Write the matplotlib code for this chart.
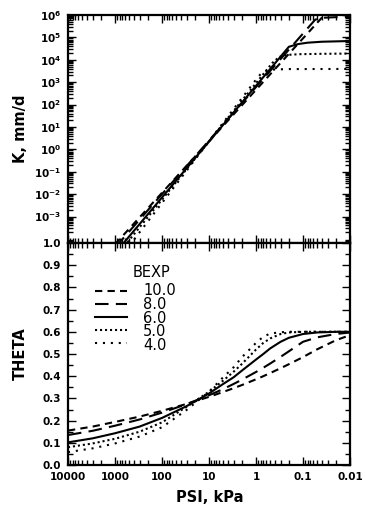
import matplotlib
matplotlib.use("Agg")
import matplotlib.pyplot as plt
from matplotlib.ticker import FixedLocator, FixedFormatter, LogLocator, NullFormatter, MultipleLocator

# ---------------- data ----------------
bexp_labels = ["10.0", "8.0", "6.0", "5.0", "4.0"]

# top panel: hydraulic conductivity K (mm/d) versus PSI (kPa)
k_psi_10 = [1000, 0.01]
k_val_10 = [5.8e-5, 1.8e7]
k_psi_8 = [1000, 0.055, 0.04, 0.02, 0.01]
k_val_8 = [4.1e-5, 6.2e5, 7.5e5, 8.0e5, 8.2e5]
k_psi_6 = [1000, 0.2, 0.13, 0.08, 0.04, 0.01]
k_val_6 = [2.3e-5, 3.8e4, 5.0e4, 5.8e4, 6.4e4, 6.9e4]
k_psi_5 = [1000, 0.45, 0.32, 0.22, 0.12, 0.04, 0.01]
k_val_5 = [1.45e-5, 7.2e3, 1.35e4, 1.65e4, 1.78e4, 1.85e4, 1.9e4]
k_psi_4 = [1000, 1.0, 0.75, 0.55, 0.4, 0.2, 0.01]
k_val_4 = [7.2e-6, 1.3e3, 2.7e3, 3.4e3, 3.7e3, 3.85e3, 3.9e3]

# bottom panel: water content THETA versus PSI (kPa)
theta_psi = [10000, 3000, 1000, 300, 100, 30, 10, 5, 3, 2, 1, 0.7, 0.5, 0.3, 0.2, 0.1, 0.05, 0.02, 0.01]
theta_10 = [0.155, 0.173, 0.194, 0.218, 0.244, 0.275, 0.307, 0.329, 0.346, 0.360, 0.386, 0.400, 0.414, 0.436, 0.454, 0.486, 0.521, 0.562, 0.585]
theta_8 = [0.135, 0.154, 0.177, 0.205, 0.236, 0.274, 0.314, 0.342, 0.365, 0.384, 0.419, 0.438, 0.457, 0.487, 0.512, 0.555, 0.575, 0.590, 0.597]
theta_6 = [0.102, 0.120, 0.143, 0.173, 0.212, 0.265, 0.322, 0.365, 0.395, 0.425, 0.475, 0.500, 0.525, 0.555, 0.573, 0.590, 0.597, 0.600, 0.600]
theta_5 = [0.080, 0.097, 0.118, 0.150, 0.192, 0.262, 0.330, 0.380, 0.420, 0.455, 0.520, 0.550, 0.570, 0.590, 0.597, 0.600, 0.600, 0.600, 0.600]
theta_4 = [0.058, 0.075, 0.097, 0.128, 0.170, 0.248, 0.330, 0.395, 0.440, 0.485, 0.550, 0.578, 0.592, 0.598, 0.600, 0.600, 0.600, 0.600, 0.600]

x_ticks = [10000, 1000, 100, 10, 1, 0.1, 0.01]
x_tick_labels = ["10000", "1000", "100", "10", "1", "0.1", "0.01"]
k_ticks = [1e-3, 1e-2, 1e-1, 1e0, 1e1, 1e2, 1e3, 1e4, 1e5, 1e6]
k_tick_labels = [r"$10^{-3}$", r"$10^{-2}$", r"$10^{-1}$", r"$10^{0}$", r"$10^{1}$",
                 r"$10^{2}$", r"$10^{3}$", r"$10^{4}$", r"$10^{5}$", r"$10^{6}$"]
theta_ticks = [0.0, 0.1, 0.2, 0.3, 0.4, 0.5, 0.6, 0.7, 0.8, 0.9, 1.0]
theta_tick_labels = ["0.0", "0.1", "0.2", "0.3", "0.4", "0.5", "0.6", "0.7", "0.8", "0.9", "1.0"]

# ---------------- style ----------------
plt.rcParams["font.family"] = ["DejaVu Sans"]
plt.rcParams["mathtext.default"] = "regular"
LW = 1.5
styles = {
    "10.0": dict(color="black", lw=LW, dashes=(3.5, 2.5)),
    "8.0": dict(color="black", lw=LW, dashes=(6.5, 3.5)),
    "6.0": dict(color="black", lw=LW, linestyle="-"),
    "5.0": dict(color="black", lw=LW, dashes=(1.0, 1.4)),
    "4.0": dict(color="black", lw=LW, dashes=(1.0, 2.8)),
}

W, H = 365, 511
fig = plt.figure(figsize=(W / 100, H / 100), dpi=100)
left, right = 68 / W, 350 / W
ax1 = fig.add_axes([left, 1 - 243 / H, right - left, (243 - 15) / H])
ax2 = fig.add_axes([left, 1 - 465 / H, right - left, (465 - 243) / H], sharex=ax1)

# top panel
k_sets = [(k_psi_10, k_val_10), (k_psi_8, k_val_8), (k_psi_6, k_val_6),
          (k_psi_5, k_val_5), (k_psi_4, k_val_4)]
for lab, (px, kv) in zip(bexp_labels, k_sets):
    ax1.plot(px, kv, **styles[lab])
ax1.set_xscale("log")
ax1.set_yscale("log")
ax1.set_xlim(10000, 0.01)
ax1.set_ylim(10 ** -4.18, 1e6)
ax1.yaxis.set_major_locator(FixedLocator(k_ticks))
ax1.yaxis.set_major_formatter(FixedFormatter(k_tick_labels))
ax1.yaxis.set_minor_locator(LogLocator(base=10, subs=range(2, 10), numticks=30))
ax1.yaxis.set_minor_formatter(NullFormatter())
ax1.tick_params(axis="x", labelbottom=False)

# bottom panel
t_sets = [theta_10, theta_8, theta_6, theta_5, theta_4]
for lab, tv in zip(bexp_labels, t_sets):
    ax2.plot(theta_psi, tv, **styles[lab])
ax2.set_ylim(0, 1.0)
ax2.yaxis.set_major_locator(FixedLocator(theta_ticks))
ax2.yaxis.set_major_formatter(FixedFormatter(theta_tick_labels))
ax2.yaxis.set_minor_locator(MultipleLocator(0.05))
ax2.xaxis.set_major_locator(FixedLocator(x_ticks))
ax2.xaxis.set_major_formatter(FixedFormatter(x_tick_labels))
ax2.xaxis.set_minor_locator(LogLocator(base=10, subs=range(2, 10), numticks=30))
ax2.xaxis.set_minor_formatter(NullFormatter())

for ax in (ax1, ax2):
    for s in ax.spines.values():
        s.set_linewidth(1.6)
    ax.tick_params(which="both", direction="in", top=True, right=True, width=1.0,
                   labelsize=7.5, pad=5)
    ax.tick_params(which="major", length=6)
    ax.tick_params(which="minor", length=3.5)
    for t in ax.get_xticklabels() + ax.get_yticklabels():
        t.set_fontweight("bold")

ax1.set_ylabel("K, mm/d", fontsize=10.5, fontweight="bold")
ax1.yaxis.set_label_coords(-0.142, 0.5)
ax2.set_ylabel("THETA", fontsize=10.5, fontweight="bold")
ax2.yaxis.set_label_coords(-0.142, 0.5)
ax2.set_xlabel("PSI, kPa", fontsize=10.5, fontweight="bold")
ax2.xaxis.set_label_coords(0.503, -0.113)

# manual legend (key) placed in axes coordinates
def ax_x(px):
    return (px - 68) / 282.0

def ax_y(py):
    return (465 - py) / 222.0

ax2.text(ax_x(151), ax_y(272), "BEXP", transform=ax2.transAxes, fontsize=10.5,
         ha="center", va="center")
row_y = [291, 304, 317, 330, 343]
for lab, ry in zip(bexp_labels, row_y):
    ax2.plot([ax_x(95), ax_x(127)], [ax_y(ry), ax_y(ry)], transform=ax2.transAxes,
             **styles[lab])
ax2.text(ax_x(143), ax_y(318), "\n".join(bexp_labels), transform=ax2.transAxes,
         fontsize=10.5, ha="left", va="center", linespacing=0.89)

fig.savefig("out.png", dpi=100)
